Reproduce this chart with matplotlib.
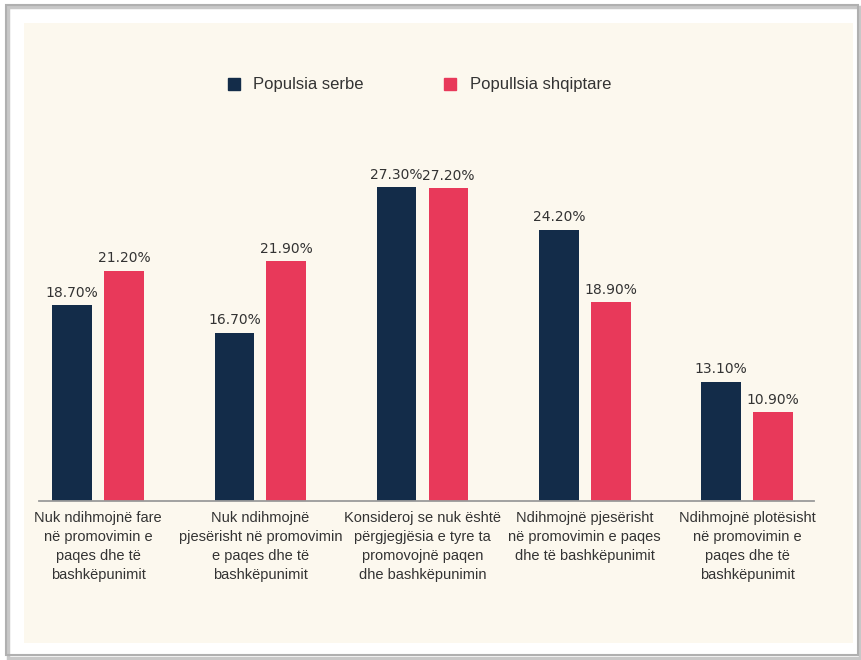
import matplotlib
matplotlib.use("Agg")
import matplotlib.pyplot as plt
import numpy as np
from matplotlib import font_manager
from matplotlib.patches import Rectangle, Patch

# data
categories = [
    "Nuk ndihmojnë fare\nnë promovimin e\npaqes dhe të\nbashkëpunimit",
    "Nuk ndihmojnë\npjesërisht në promovimin\ne paqes dhe të\nbashkëpunimit",
    "Konsideroj se nuk është\npërgjegjësia e tyre ta\npromovojnë paqen\ndhe bashkëpunimin",
    "Ndihmojnë pjesërisht\nnë promovimin e paqes\ndhe të bashkëpunimit",
    "Ndihmojnë plotësisht\nnë promovimin e\npaqes dhe të\nbashkëpunimit",
]
serbe = [18.7, 16.7, 27.3, 24.2, 13.1]
shqiptare = [21.2, 21.9, 27.2, 18.9, 10.9]
series_names = ["Populsia serbe", "Popullsia shqiptare"]

navy = "#132C49"
pink = "#E8395A"
cream = "#FCF8EE"
text_col = "#333333"

# pick a narrow font for labels if there is one
names = {f.name for f in font_manager.fontManager.ttflist}
narrow = "Liberation Sans Narrow" if "Liberation Sans Narrow" in names else "Liberation Sans"

W, H = 861, 660
fig = plt.figure(figsize=(W / 100, H / 100), dpi=100)
fig.patch.set_facecolor("white")

# outer frame and cream panel (pixel coords -> figure fraction)
def px_rect(x0, y0, x1, y1, **kw):
    return Rectangle((x0 / W, 1 - y1 / H), (x1 - x0) / W, (y1 - y0) / H,
                     transform=fig.transFigure, zorder=-10, **kw)

# soft shadow + frame
fig.patches.append(px_rect(8, 7, 860, 658, facecolor="none", edgecolor="#c8c8c8", lw=2.5))
fig.patches.append(px_rect(6, 5, 858, 655, facecolor="none", edgecolor="#b0b0b0", lw=1.5))
fig.patches.append(px_rect(24, 23, 853, 643, facecolor=cream, edgecolor="none"))

ax = fig.add_axes([39 / W, (H - 501) / H, 775 / W, 351 / H])
ax.set_facecolor("none")

x = np.arange(len(categories))
width = 0.244
off = 0.16
b1 = ax.bar(x - off, serbe, width, color=navy, label=series_names[0])
b2 = ax.bar(x + off, shqiptare, width, color=pink, label=series_names[1])

for bars, vals in ((b1, serbe), (b2, shqiptare)):
    for rect, v in zip(bars, vals):
        ax.annotate(f"{v:.2f}%", (rect.get_x() + rect.get_width() / 2, v),
                    xytext=(0, 4), textcoords="offset points",
                    ha="center", va="bottom", fontsize=10, color=text_col)

ax.set_xlim(-0.364, 4.413)
ax.set_ylim(4.43, 30)
ax.set_yticks([])
ax.set_xticks(x)
ax.set_xticklabels(categories, fontsize=10.5, family=narrow, color=text_col,
                   linespacing=1.45)
ax.tick_params(axis="x", length=0, pad=7)
for s in ("top", "right", "left"):
    ax.spines[s].set_visible(False)
ax.spines["bottom"].set_color("#9a9a9a")
ax.spines["bottom"].set_linewidth(1.3)

handles = [Patch(color=navy), Patch(color=pink)]
fig.legend(handles, series_names, loc="center", bbox_to_anchor=(0.487, 1 - 85 / H),
           ncol=2, frameon=False, prop={"family": narrow, "size": 12},
           handlelength=0.75, handleheight=0.75, handletextpad=0.8,
           columnspacing=4.8, labelcolor=text_col)

fig.savefig("out.png", dpi=100, facecolor="white")
